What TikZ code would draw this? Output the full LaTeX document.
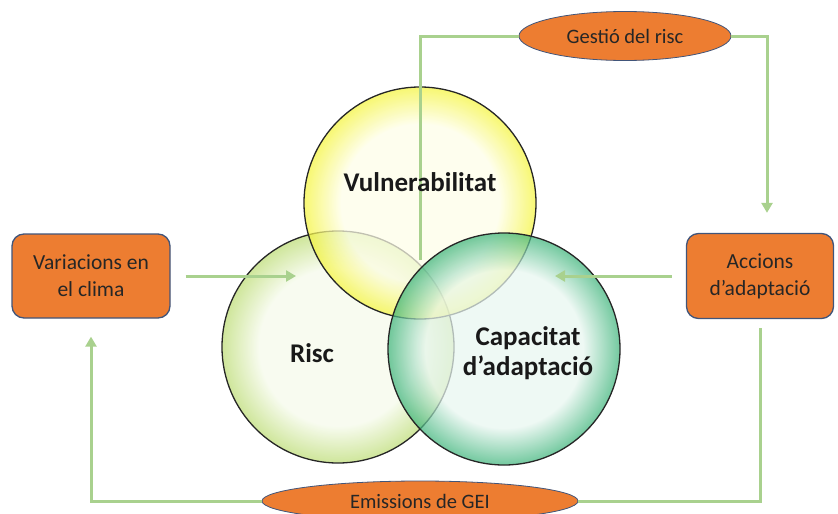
\documentclass[tikz,border=0pt]{standalone}
\usepackage{fontspec}
\setmainfont{Carlito}
\usepackage{xcolor}
\usepackage{tikz}
\usetikzlibrary{shapes.geometric,arrows.meta}

\definecolor{boxorange}{HTML}{ED7D31}
\definecolor{boxborder}{HTML}{41557A}
\definecolor{linkgreen}{HTML}{A9D18E}
\definecolor{vulnpale}{HTML}{FEFEE8}
\definecolor{vulnedge}{HTML}{F4F43C}
\definecolor{riscpale}{HTML}{F5FAEA}
\definecolor{riscedge}{HTML}{BCDC74}
\definecolor{cappale}{HTML}{E8F6F0}
\definecolor{capedge}{HTML}{3DB47A}

\pgfdeclareradialshading{vulnglass}{\pgfpoint{0bp}{0bp}}{color(0bp)=(vulnpale); color(17bp)=(vulnpale); color(25bp)=(vulnedge); color(50bp)=(vulnedge)}
\pgfdeclareradialshading{riscglass}{\pgfpoint{0bp}{0bp}}{color(0bp)=(riscpale); color(17bp)=(riscpale); color(25bp)=(riscedge); color(50bp)=(riscedge)}
\pgfdeclareradialshading{capglass}{\pgfpoint{0bp}{0bp}}{color(0bp)=(cappale); color(17bp)=(cappale); color(25bp)=(capedge); color(50bp)=(capedge)}

\tikzset{
    glass/.style={circle, draw=black!85, line width=1.3pt, minimum size=232pt, inner sep=0pt, shade, fill opacity=0.72},
    orangebox/.style={draw=boxborder, line width=1.3pt, fill=boxorange, rounded corners=12pt, align=center, text=black!85, font=\fontsize{21.5}{27}\selectfont},
    orangeoval/.style={ellipse, draw=boxborder, line width=0.8pt, fill=boxorange, inner sep=0pt, text=black!85, font=\fontsize{20.5}{25}\selectfont},
    circletext/.style={align=center, text=black!90, font=\bfseries\fontsize{27}{30}\selectfont},
    link/.style={draw=linkgreen, line width=3pt},
    linkarrow/.style={link, -{Triangle[length=10pt,width=11pt]}}
}

\begin{document}
\begin{tikzpicture}[x=1pt, y=-1pt]
    \useasboundingbox (0,0) rectangle (838,514);

    \node[glass, shading=riscglass] (risc) at (338,347) {};
    \node[glass, shading=vulnglass] (vuln) at (420,203) {};
    \node[glass, shading=capglass] (cap) at (504,349) {};

    \node[orangebox, minimum width=158pt, minimum height=84pt] (clima) at (91,276) {Variacions en\\el clima};
    \node[orangebox, minimum width=147pt, minimum height=85pt] (accions) at (760,276) {Accions\\d'adaptació};
    \node[orangeoval, minimum width=212pt, minimum height=49pt] (gestio) at (625,36) {Gestió del risc};
    \node[orangeoval, minimum width=316pt, minimum height=40pt] (emissions) at (420,501) {Emissions de GEI};

    \coordinate (triple) at (420,260);
    \coordinate (riscin) at (296,276);
    \coordinate (capin) at (555,276);

    \draw[link] (triple) |- (gestio.west);
    \draw[linkarrow, shorten >=20pt] (gestio.east) -| ([xshift=7pt]accions.north);
    \draw[linkarrow, shorten <=15pt] (clima.east) -- (riscin);
    \draw[linkarrow, shorten <=14pt] (accions.west) -- (capin);
    \draw[link, shorten <=9pt] (accions.south) |- (emissions.east);
    \draw[linkarrow, shorten >=18pt] (emissions.west) -| (clima.south);

    \node[circletext] at (420,182) {Vulnerabilitat};
    \node[circletext] at (312,353) {Risc};
    \node[circletext] at (528,353) {Capacitat\\d'adaptació};
\end{tikzpicture}
\end{document}
